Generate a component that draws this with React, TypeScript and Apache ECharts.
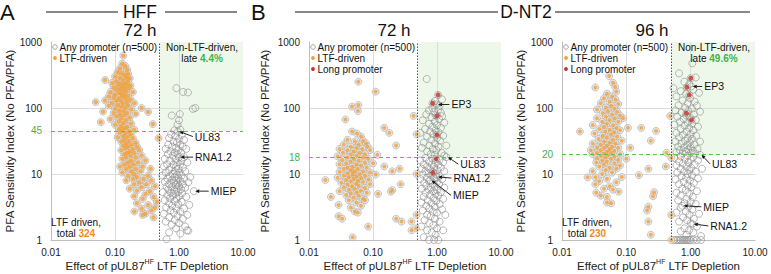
import { useEffect, useRef } from 'react';
import * as echarts from 'echarts';

type Pt = [number, number];

// ---- axis ticks ----
const xTickLabels = ['0.01', '0.10', '1.00', '10.00'];
const yTickLabels = ['1', '10', '100', '1000'];

// ---- HFF 72 h ----
const hffLtf: Pt[] = [
  [0.135, 620], [0.13, 470], [0.145, 430], [0.12, 400], [0.155, 380], [0.11, 350], [0.125, 340], [0.14, 320], [0.16, 330],
  [0.10, 300], [0.118, 290], [0.15, 295], [0.17, 285], [0.132, 270], [0.07, 265], [0.105, 255], [0.16, 260],
  [0.09, 240], [0.12, 235], [0.14, 240], [0.155, 230], [0.11, 220], [0.13, 215], [0.175, 220], [0.095, 205], [0.145, 205],
  [0.165, 200], [0.12, 195], [0.105, 190], [0.135, 185], [0.15, 180], [0.085, 175], [0.115, 170], [0.19, 175], [0.125, 165],
  [0.1, 160], [0.14, 158], [0.16, 155], [0.08, 150], [0.13, 150],
  [0.095, 145], [0.115, 140], [0.145, 140], [0.175, 135], [0.07, 130], [0.105, 130], [0.125, 128], [0.155, 125], [0.05, 123],
  [0.09, 120], [0.135, 118], [0.2, 118], [0.11, 112], [0.16, 110], [0.08, 108], [0.125, 105], [0.145, 102], [0.26, 100],
  [0.1, 98], [0.18, 96], [0.115, 92], [0.135, 90], [0.065, 88], [0.33, 87], [0.155, 85], [0.095, 84], [0.12, 80], [0.21, 82],
  [0.14, 78], [0.105, 75], [0.17, 72], [0.125, 70], [0.085, 68], [0.15, 66], [0.115, 63], [0.06, 61], [0.135, 60], [0.18, 58],
  [0.39, 57], [0.1, 56], [0.125, 54], [0.155, 52], [0.14, 50], [0.115, 48], [0.2, 47], [0.165, 45], [0.13, 46],
  [0.12, 43], [0.145, 42], [0.175, 40], [0.135, 38], [0.155, 37], [0.11, 36], [0.48, 35], [0.19, 35], [0.14, 33], [0.165, 32],
  [0.125, 31], [0.21, 30], [0.15, 29], [0.18, 28], [0.135, 27], [0.16, 26], [0.22, 26], [0.145, 25], [0.19, 24], [0.125, 23],
  [0.17, 22], [0.24, 23], [0.155, 21], [0.2, 21], [0.14, 20],
  [0.175, 19], [0.26, 19], [0.15, 18], [0.21, 18], [0.13, 17], [0.18, 16], [0.3, 16], [0.16, 15], [0.23, 15], [0.14, 14],
  [0.195, 14], [0.12, 13], [0.17, 13], [0.27, 13], [0.36, 12], [0.15, 12], [0.21, 12], [0.18, 11], [0.25, 11], [0.13, 10.5], [0.2, 10],
  [0.16, 9.5], [0.33, 9.5], [0.22, 9], [0.19, 8.5], [0.28, 8.5], [0.37, 8], [0.15, 8], [0.24, 7.5], [0.2, 7], [0.31, 7],
  [0.42, 6.5], [0.26, 6.3], [0.17, 6], [0.22, 5.6], [0.35, 5.5], [0.3, 5],
  [0.2, 4.6], [0.4, 4.5], [0.27, 4.2], [0.45, 3.8], [0.22, 3.6], [0.33, 3.4], [0.42, 3.1], [0.26, 3], [0.37, 2.8], [0.2, 2.7],
  [0.3, 2.5], [0.27, 2.4], [0.4, 2.2],
];
const hffOther: Pt[] = [
  [0.91, 200], [1.16, 175], [1.38, 172], [1.8, 100], [1.65, 97], [0.77, 77], [1.03, 81], [1.0, 65], [0.95, 56], [0.85, 46], [1.05, 47],
  [0.96, 44], [0.75, 40], [0.88, 38], [1.1, 39], [0.7, 35], [1.0, 34], [1.2, 33], [0.82, 31], [0.93, 30], [0.68, 28], [1.05, 28],
  [0.78, 26], [1.15, 26], [0.9, 25], [0.62, 24], [0.98, 23], [1.3, 24], [0.74, 22], [0.86, 21], [1.08, 21], [0.67, 20], [0.95, 20],
  [1.0, 18], [0.8, 19], [1.2, 18], [0.6, 17], [0.88, 17], [1.1, 16], [0.72, 16], [0.95, 15], [1.35, 15], [0.65, 14], [0.82, 14],
  [1.05, 14], [0.9, 13], [0.58, 13], [0.76, 12.5], [1.15, 12.5], [0.98, 12], [0.7, 11.5], [0.86, 11], [1.25, 11], [0.62, 10.5],
  [1.02, 10.5], [0.8, 10],
  [0.93, 9.8], [0.55, 9.5], [0.72, 9.3], [1.1, 9.5], [1.5, 9], [0.85, 9], [0.98, 8.7], [0.66, 8.5], [1.2, 8.5], [0.78, 8.2],
  [0.9, 8], [1.05, 7.8], [0.6, 7.6], [1.4, 7.5], [0.83, 7.4], [0.95, 7.2], [0.7, 7], [1.15, 7], [0.88, 6.8], [1.0, 6.6],
  [0.64, 6.4], [0.76, 6.3], [1.25, 6.2], [0.92, 6], [1.08, 5.9], [0.68, 5.8], [0.84, 5.6], [1.7, 5.5], [0.98, 5.4], [0.56, 5.3],
  [0.75, 5.2], [1.12, 5.1], [0.88, 5],
  [0.66, 4.8], [0.8, 4.7], [1.0, 4.6], [1.3, 4.5], [0.72, 4.3], [0.92, 4.2], [0.6, 4.0], [0.85, 3.9], [1.1, 3.8], [0.7, 3.6],
  [0.97, 3.5], [1.45, 3.4], [0.78, 3.3], [0.63, 3.1], [0.9, 3.0], [1.2, 3.0], [0.74, 2.8], [1.05, 2.7], [0.83, 2.6], [0.58, 2.5],
  [1.35, 2.4], [0.95, 2.3], [0.7, 2.2], [1.15, 2.1], [0.86, 2.0],
  [0.62, 1.9], [1.0, 1.8], [0.77, 1.7], [1.25, 1.6], [0.9, 1.5], [1.33, 1.4], [1.4, 1.38], [0.7, 1.3], [1.05, 1.25], [0.64, 1.03],
];

// ---- D-NT2 72 h ----
const nt72Ltf: Pt[] = [
  [0.059, 250], [0.11, 177], [0.047, 105], [0.059, 111], [0.058, 90], [0.037, 67], [0.43, 76], [0.15, 50], [0.18, 42], [0.48, 40],
  [0.047, 44], [0.056, 41], [0.065, 37], [0.23, 27],
  [0.04, 33], [0.052, 31], [0.07, 32], [0.078, 29], [0.035, 28], [0.06, 28], [0.045, 26], [0.082, 26], [0.055, 25], [0.03, 24],
  [0.068, 24], [0.04, 23], [0.09, 23], [0.05, 22], [0.062, 21], [0.034, 21], [0.075, 20], [0.045, 20],
  [0.117, 19.5], [0.056, 19], [0.028, 18.5], [0.04, 18], [0.07, 18], [0.05, 17], [0.085, 17], [0.033, 16.5], [0.06, 16],
  [0.045, 15.5], [0.075, 15], [0.038, 14.5], [0.055, 14], [0.1, 14.5], [0.03, 14], [0.065, 13.5], [0.048, 13], [0.15, 13],
  [0.04, 12.5], [0.08, 12.5], [0.058, 12], [0.035, 12],
  [0.26, 12], [0.2, 11], [0.045, 11.5], [0.07, 11], [0.052, 11], [0.03, 10.8], [0.09, 10.5], [0.04, 10.3], [0.062, 10],
  [0.048, 9.8], [0.11, 9.8], [0.035, 9.5], [0.075, 9.5], [0.055, 9.2], [0.042, 9], [0.028, 8.8], [0.065, 8.7], [0.05, 8.5],
  [0.085, 8.3], [0.018, 8.1], [0.038, 8.2], [0.058, 8], [0.048, 10.5],
  [0.045, 7.8], [0.07, 7.6], [0.032, 7.4], [0.055, 7.2], [0.27, 7], [0.04, 7], [0.09, 7], [0.06, 6.7], [0.047, 6.5], [0.035, 6.3],
  [0.075, 6.2], [0.052, 6], [0.042, 5.8], [0.2, 5.7], [0.19, 5.4], [0.065, 5.6], [0.03, 5.5], [0.056, 5.3], [0.045, 5.1],
  [0.12, 5], [0.08, 5.2],
  [0.038, 4.8], [0.06, 4.7], [0.022, 4.5], [0.05, 4.4], [0.07, 4.2], [0.075, 4], [0.042, 4], [0.055, 3.7], [0.029, 3.4],
  [0.065, 3.3], [0.045, 3.1], [0.052, 2.7], [0.058, 2.6], [0.029, 2.3], [0.033, 2.1], [0.084, 1.6], [0.048, 1.1], [0.23, 2.1],
  [0.28, 1.9], [0.4, 1.9], [0.4, 1.4], [0.47, 1.5], [0.48, 2.4], [0.48, 10],
];
const nt72Other: Pt[] = [
  [0.69, 275], [1.2, 135], [0.93, 128], [0.85, 100], [1.1, 108], [0.98, 113], [0.75, 92], [1.05, 95], [0.9, 88], [1.15, 85],
  [0.68, 80], [0.95, 78], [1.2, 75], [0.82, 72], [1.08, 68], [0.6, 65], [0.92, 62], [0.75, 58], [1.3, 60], [1.0, 55], [0.85, 52],
  [1.15, 50], [0.65, 48], [0.95, 46], [0.78, 44], [1.05, 43], [0.55, 42], [0.88, 40], [1.25, 38], [0.7, 37], [1.0, 35], [0.82, 33],
  [1.12, 32], [0.62, 30], [0.93, 29], [0.76, 27], [1.05, 26], [1.4, 27], [0.58, 25], [0.86, 24], [0.98, 23], [0.7, 22], [1.18, 21],
  [0.8, 20], [0.92, 19.5], [1.3, 19], [1.4, 18],
  [0.66, 17.5], [0.85, 17], [1.1, 16.5], [0.55, 16], [0.75, 15.5], [0.95, 15], [1.25, 15], [0.62, 14], [0.83, 14], [1.05, 13.8],
  [0.7, 13], [0.9, 12.8], [1.15, 12.5], [0.58, 12], [0.78, 11.8], [1.0, 11.5], [0.66, 11], [0.87, 10.8], [1.3, 11], [0.74, 10.2],
  [0.96, 10],
  [0.6, 9.8], [0.82, 9.5], [1.1, 9.3], [0.98, 9], [0.7, 8.8], [0.9, 8.6], [0.55, 8.4], [1.2, 8.3], [0.78, 8], [0.75, 7.8], [1.0, 7.6],
  [0.63, 7.4], [0.86, 7.2], [1.08, 7], [0.68, 6.7], [0.93, 6.5], [0.8, 6.3], [1.3, 6.2], [0.58, 6], [0.74, 5.8], [1.0, 5.7],
  [0.87, 5.5], [1.15, 5.3], [0.66, 5.2], [0.95, 5],
  [0.78, 4.8], [1.05, 4.7], [0.62, 4.5], [0.88, 4.3], [1.25, 4.2], [0.72, 4], [0.97, 3.9], [0.57, 3.7], [0.82, 3.6], [1.1, 3.5],
  [0.68, 3.3], [0.92, 3.2], [0.76, 3], [1.2, 2.9], [0.6, 2.8], [0.86, 2.7], [1.0, 2.6], [0.7, 2.4], [1.35, 2.4], [0.8, 2.3],
  [0.93, 2.1], [0.64, 2.0],
  [1.1, 1.9], [0.76, 1.8], [0.88, 1.7], [0.57, 1.6], [1.0, 1.5], [0.7, 1.4], [1.25, 1.4], [0.83, 1.3], [0.95, 1.2], [0.62, 1.1],
  [0.75, 1.0], [0.9, 1.0], [1.05, 1.0],
];
const nt72Long: Pt[] = [[1.04, 158], [0.85, 118], [1.0, 76], [1.0, 39], [0.97, 17], [0.86, 10.5]];

// ---- D-NT2 96 h ----
const nt96Ltf: Pt[] = [
  [0.054, 305], [0.033, 205], [0.062, 241], [0.067, 210], [0.07, 177], [0.089, 70], [0.019, 44], [0.17, 50], [0.29, 45], [0.24, 32],
  [0.106, 50], [0.115, 25], [0.48, 76], [0.42, 21], [0.5, 17.6], [0.41, 13], [0.157, 9.6], [0.22, 12], [0.085, 9],
  [0.05, 165], [0.06, 150], [0.045, 140], [0.068, 135], [0.055, 125], [0.04, 118], [0.075, 115], [0.058, 108], [0.048, 102],
  [0.065, 98], [0.035, 95], [0.052, 90], [0.072, 88], [0.043, 84], [0.06, 80], [0.08, 77], [0.048, 74], [0.035, 70], [0.066, 70],
  [0.055, 66], [0.042, 62], [0.075, 62], [0.05, 58], [0.03, 55], [0.062, 55], [0.045, 52], [0.07, 50],
  [0.038, 48], [0.055, 47], [0.08, 46], [0.047, 44], [0.065, 43], [0.032, 41], [0.058, 40], [0.043, 38], [0.072, 37], [0.05, 36],
  [0.037, 34], [0.062, 33], [0.085, 32], [0.045, 31], [0.055, 30],
  [0.03, 29], [0.068, 29], [0.04, 28], [0.05, 27], [0.06, 26], [0.035, 25.5], [0.045, 25], [0.075, 25], [0.055, 24], [0.028, 23],
  [0.04, 23], [0.065, 22.5], [0.05, 22], [0.035, 21], [0.058, 21], [0.045, 20.5], [0.08, 20], [0.03, 20], [0.052, 19.5], [0.04, 19],
  [0.065, 18.5], [0.047, 18], [0.035, 17.5], [0.058, 17], [0.075, 16.5], [0.042, 16], [0.1, 17],
  [0.05, 15.5], [0.034, 15], [0.065, 14.5], [0.045, 14], [0.08, 13.5], [0.038, 13], [0.055, 12.5], [0.07, 12], [0.048, 11.5],
  [0.03, 11], [0.06, 10.5], [0.042, 10],
  [0.025, 8.9], [0.033, 8.9], [0.05, 8.5], [0.038, 7.8], [0.07, 7.5], [0.033, 7], [0.055, 6.5], [0.045, 6], [0.076, 5.4], [0.04, 4.7],
  [0.05, 4.5], [0.058, 3.6], [0.05, 3.7], [0.27, 5.3], [0.26, 4.6], [0.22, 3.2], [0.21, 2.8], [0.22, 1.9], [0.24, 1.2], [0.5, 2.4],
  [0.5, 1.0], [0.034, 5.2], [0.062, 5.8],
];
const nt96Other: Pt[] = [
  [1.06, 475], [0.66, 335], [0.54, 200], [1.2, 290], [0.8, 250], [0.95, 230], [1.02, 212], [0.7, 180], [1.1, 190], [0.85, 165],
  [1.35, 170], [0.6, 150], [0.98, 140], [0.75, 130], [1.15, 125], [0.9, 118], [0.65, 110], [1.25, 108], [0.82, 100], [1.05, 98],
  [0.58, 92], [0.92, 90], [0.72, 85], [1.4, 88], [1.12, 80], [0.85, 78], [0.62, 74], [0.98, 72], [0.78, 68], [1.2, 66], [0.68, 62],
  [0.9, 60], [1.05, 58], [0.56, 56], [0.8, 54], [1.3, 52], [0.95, 50], [0.7, 48], [1.1, 46], [0.86, 44], [0.6, 42], [1.0, 40],
  [0.76, 39], [1.22, 38], [0.66, 36], [0.9, 35], [1.05, 34], [0.82, 32], [0.58, 31], [1.4, 31], [0.97, 30], [0.72, 29], [1.15, 28],
  [0.88, 27], [0.64, 26], [1.0, 25.5], [0.78, 25], [1.28, 24], [0.92, 23.5], [0.68, 23], [1.08, 22.5], [0.84, 22], [0.6, 21.5],
  [1.0, 21], [0.75, 20.5], [1.18, 20.5], [1.4, 19.5],
  [0.9, 19], [0.7, 18.5], [1.1, 18], [0.56, 17.5], [0.82, 17], [1.0, 16.5], [1.3, 16], [0.66, 15.5], [0.92, 15], [0.76, 14.5],
  [1.15, 14], [0.6, 13.5], [0.86, 13], [1.02, 12.5], [0.7, 12], [1.5, 12], [0.95, 11.5], [0.8, 11], [1.2, 10.8], [0.62, 10.5],
  [0.9, 10], [1.05, 9.6], [0.72, 9.3], [0.85, 8.8], [1.3, 8.6], [0.58, 8.3], [0.98, 8], [0.78, 7.6], [1.12, 7.3], [0.66, 7],
  [0.9, 6.7], [1.02, 6.3], [0.74, 6], [0.84, 5.7], [1.25, 5.5], [0.6, 5.2], [0.95, 5], [0.7, 4.7], [1.08, 4.5], [0.86, 4.2],
  [0.64, 4], [1.0, 3.8], [0.8, 3.6], [1.2, 3.5], [0.74, 3.3], [0.92, 3.2], [0.7, 3.1], [1.06, 2.9], [0.84, 2.7], [0.6, 2.6],
  [1.35, 2.5], [0.96, 2.4], [0.76, 2.2], [1.12, 2.1], [0.88, 2.0], [0.66, 1.9], [1.0, 1.8], [1.06, 1.75], [1.25, 1.6], [0.8, 1.5],
  [0.94, 1.4], [0.7, 1.35], [1.1, 1.3], [0.86, 1.2], [1.45, 1.15],
  [0.55, 1], [0.6, 1], [0.63, 1], [0.67, 1], [0.7, 1], [0.74, 1], [0.78, 1], [0.82, 1], [0.86, 1], [0.9, 1], [0.95, 1], [1.0, 1],
  [1.1, 1], [1.25, 1], [1.45, 1],
];
const nt96Long: Pt[] = [[1.0, 282], [0.87, 206], [0.95, 158], [0.86, 83], [1.03, 66]];

// ---- per-panel settings ----
const panelTimes = ['72 h', '72 h', '96 h'];
const thresholds = [45, 18, 20];
const depletionCutoff = 0.5;
const lateShares = ['4.4%', '', '49.6%'];
const ltfTotals = ['324', '', '230'];

type Note = { panel: number; label: string; at: Pt; dx: number; dy: number };
const notes: Note[] = [
  { panel: 0, label: 'UL83', at: [0.96, 44], dx: 17, dy: 5 },
  { panel: 0, label: 'RNA1.2', at: [1.0, 18], dx: 16, dy: 0 },
  { panel: 0, label: 'MIEP', at: [1.7, 5.5], dx: 17, dy: 0 },
  { panel: 1, label: 'EP3', at: [0.98, 113], dx: 15, dy: 0 },
  { panel: 1, label: 'UL83', at: [1.4, 18], dx: 14, dy: 7 },
  { panel: 1, label: 'RNA1.2', at: [0.98, 9], dx: 17, dy: 1 },
  { panel: 1, label: 'MIEP', at: [0.78, 8], dx: 23, dy: 15 },
  { panel: 2, label: 'EP3', at: [1.02, 212], dx: 13, dy: 0 },
  { panel: 2, label: 'UL83', at: [1.4, 19.5], dx: 12, dy: 9 },
  { panel: 2, label: 'MIEP', at: [0.74, 3.3], dx: 21, dy: 1 },
  { panel: 2, label: 'RNA1.2', at: [1.06, 1.75], dx: 18, dy: 2 },
];

const FONT = '"Liberation Sans", Arial, sans-serif';
const ORANGE = '#f3a03a';
const ORANGE_TXT = '#ef8a25';
const GREEN = '#3db34a';
const RED = '#c8302a';
const RING = '#8f8f8f';

const grids = [
  { left: 51, top: 42, width: 192, height: 198, outerBoundsMode: 'none', containLabel: false },
  { left: 309, top: 42, width: 192, height: 198, outerBoundsMode: 'none', containLabel: false },
  { left: 562, top: 42, width: 193, height: 198, outerBoundsMode: 'none', containLabel: false },
];

const panels = [
  { ltf: hffLtf, other: hffOther, long: [] as Pt[] },
  { ltf: nt72Ltf, other: nt72Other, long: nt72Long },
  { ltf: nt96Ltf, other: nt96Other, long: nt96Long },
];

export default function App() {
  const ref = useRef<HTMLDivElement>(null);

  useEffect(() => {
    if (!ref.current) return;
    const chart = echarts.init(ref.current, undefined, { renderer: 'svg' });

    const xAxis = grids.map((_, i) => ({
      type: 'log', logBase: 10, min: 0.01, max: 10, gridIndex: i,
      axisLine: { lineStyle: { color: '#bdbdbd' } },
      axisTick: { show: false },
      splitLine: { show: true, showMinLine: false, showMaxLine: false, lineStyle: { color: '#dcdcdc' } },
      axisLabel: {
        fontFamily: FONT, fontSize: 10, color: '#222', margin: 7,
        formatter: (v: number) => xTickLabels[Math.round(Math.log10(v)) + 2],
      },
      name: '{n|Effect of pUL87}{s|HF}{n| LTF Depletion}',
      nameLocation: 'middle', nameGap: 18, nameMoveOverlap: false,
      nameTextStyle: {
        fontFamily: FONT, color: '#222',
        rich: {
          n: { fontFamily: FONT, fontSize: 11.5, color: '#222', lineHeight: 14, verticalAlign: 'bottom' },
          s: { fontFamily: FONT, fontSize: 7, color: '#222', lineHeight: 14, verticalAlign: 'top' },
        },
      },
    }));

    const yAxis = grids.map((_, i) => ({
      type: 'log', logBase: 10, min: 1, max: 1000, gridIndex: i,
      axisLine: { show: true, lineStyle: { color: '#bdbdbd' } },
      axisTick: { show: false },
      splitLine: { show: true, showMinLine: false, showMaxLine: false, lineStyle: { color: '#dcdcdc' } },
      axisLabel: {
        fontFamily: FONT, fontSize: 10, color: '#222', margin: 9,
        formatter: (v: number) => yTickLabels[Math.round(Math.log10(v))],
      },
      name: 'PFA Sensitivity Index (No PFA/PFA)',
      nameLocation: 'middle', nameGap: i === 1 ? 38 : 35, nameMoveOverlap: false,
      nameTextStyle: { fontFamily: FONT, fontSize: 11.5, color: '#222' },
    }));

    const series: any[] = [];
    panels.forEach((p, i) => {
      series.push({
        type: 'scatter', xAxisIndex: i, yAxisIndex: i, z: 2,
        data: p.other, symbolSize: 7,
        itemStyle: { color: 'rgba(255,255,255,0)', borderColor: RING, borderWidth: 0.8 },
        markArea: {
          silent: true,
          itemStyle: { color: 'rgba(205,235,195,0.35)' },
          data: [[{ coord: [depletionCutoff, thresholds[i]] }, { coord: [10, 1000] }]],
        },
      });
      // LTF-driven promoters: pale grey ring under an orange dot
      series.push({
        type: 'scatter', xAxisIndex: i, yAxisIndex: i, z: 3,
        data: p.ltf, symbolSize: 7,
        itemStyle: { color: '#e2e2e2', borderColor: '#ababab', borderWidth: 0.8 },
      });
      series.push({
        type: 'scatter', xAxisIndex: i, yAxisIndex: i, z: 4,
        data: p.ltf, symbolSize: i === 0 ? 4.6 : 4,
        itemStyle: { color: ORANGE },
      });
      if (p.long.length) {
        series.push({
          type: 'scatter', xAxisIndex: i, yAxisIndex: i, z: 5,
          data: p.long, symbolSize: 7,
          itemStyle: { color: 'rgba(255,255,255,0)', borderColor: RING, borderWidth: 0.8 },
        });
        series.push({
          type: 'scatter', xAxisIndex: i, yAxisIndex: i, z: 6,
          data: p.long, symbolSize: 5,
          itemStyle: { color: RED },
        });
      }
      // threshold and depletion cut-off drawn above the points
      series.push({
        type: 'scatter', xAxisIndex: i, yAxisIndex: i, z: 8, data: [],
        markLine: {
          silent: true, symbol: 'none', animation: false,
          data: [
            {
              yAxis: thresholds[i],
              lineStyle: { color: '#5fbf52', type: [4, 3], width: 1.2 },
              label: { show: true, position: 'start', distance: 9, formatter: String(thresholds[i]), color: GREEN, fontFamily: FONT, fontSize: 10 },
            },
            {
              xAxis: depletionCutoff,
              lineStyle: { color: '#555', type: [1.5, 1.5], width: 1 },
              label: { show: false },
            },
          ],
        },
      });
    });

    chart.setOption({
      animation: false,
      textStyle: { fontFamily: FONT },
      grid: grids,
      xAxis,
      yAxis,
      series,
    });

    // ---- overlay: headers, legends, summary text, annotations ----
    const g: any[] = [];
    const text = (x: number, y: number, t: string, size: number, align = 'left', extra: any = {}) => ({
      type: 'text', x, y, silent: true, z: 100,
      style: {
        text: t, fill: '#111', fontSize: size, fontFamily: FONT,
        textAlign: align, textVerticalAlign: 'middle', align, verticalAlign: 'middle', ...extra,
      },
    });
    const hline = (x1: number, x2: number, y: number) => ({
      type: 'line', silent: true, z: 100, shape: { x1, y1: y, x2, y2: y }, style: { stroke: '#111', lineWidth: 1 },
    });

    g.push(text(0, 12.5, 'A', 22));
    g.push(text(251, 12.5, 'B', 22));
    g.push(hline(46, 118, 12), text(140, 11.5, 'HFF', 17.5, 'center'), hline(165, 237, 12));
    g.push(hline(295, 498, 12), text(526, 11.5, 'D-NT2', 17.5, 'center'), hline(555, 750, 12));
    const timeX = [140, 394, 652];
    panelTimes.forEach((t, i) => g.push(text(timeX[i], 30, t, 17, 'center')));

    // legends
    panels.forEach((p, i) => {
      const lx = grids[i].left + 4;
      const rows: { label: string; kind: string }[] = [
        { label: 'Any promoter (n=500)', kind: 'any' },
        { label: 'LTF-driven', kind: 'ltf' },
      ];
      if (p.long.length) rows.push({ label: 'Long promoter', kind: 'long' });
      rows.forEach((r, k) => {
        const cy = 47 + k * 11;
        if (r.kind === 'any') {
          g.push({ type: 'circle', silent: true, z: 100, shape: { cx: lx, cy, r: 2.3 }, style: { fill: '#fff', stroke: RING, lineWidth: 0.8 } });
        } else {
          g.push({ type: 'circle', silent: true, z: 100, shape: { cx: lx, cy, r: 1.9 }, style: { fill: r.kind === 'ltf' ? ORANGE : RED } });
        }
        g.push(text(lx + 4.5, cy, r.label, 10));
      });
    });

    // summary text
    [0, 2].forEach((i) => {
      const right = grids[i].left + grids[i].width;
      const cx = right - 41;
      g.push(text(cx, 47, 'Non-LTF-driven,', 10, 'center'));
      g.push(text(cx, 58, `late {g|${lateShares[i]}}`, 10, 'center', {
        rich: { g: { fill: GREEN, fontWeight: 'bold', fontSize: 10, fontFamily: FONT } },
      }));
      const lx = grids[i].left + 25;
      g.push(text(lx, 222, 'LTF driven,', 10, 'center'));
      g.push(text(lx, 233, `total {o|${ltfTotals[i]}}`, 10, 'center', {
        rich: { o: { fill: ORANGE_TXT, fontWeight: 'bold', fontSize: 10, fontFamily: FONT } },
      }));
    });

    // labelled promoters with arrows
    notes.forEach((n) => {
      const [px, py] = chart.convertToPixel({ gridIndex: n.panel }, n.at) as number[];
      const lx = px + n.dx;
      const ly = py + n.dy;
      const sx = lx - 2;
      const sy = ly;
      const tx = px + 1.5;
      const ty = py;
      const ang = Math.atan2(ty - sy, tx - sx);
      const ah = 4;
      const aw = 1.8;
      const bx = tx - ah * Math.cos(ang);
      const by = ty - ah * Math.sin(ang);
      g.push({ type: 'line', silent: true, z: 100, shape: { x1: sx, y1: sy, x2: bx, y2: by }, style: { stroke: '#111', lineWidth: 0.9 } });
      g.push({
        type: 'polygon', silent: true, z: 100,
        shape: {
          points: [
            [tx, ty],
            [bx - aw * Math.sin(ang), by + aw * Math.cos(ang)],
            [bx + aw * Math.sin(ang), by - aw * Math.cos(ang)],
          ],
        },
        style: { fill: '#111' },
      });
      g.push(text(lx, ly, n.label, 10.5));
    });

    chart.setOption({ graphic: g });

    return () => chart.dispose();
  }, []);

  return <div ref={ref} style={{ position: 'fixed', left: 0, top: 0, width: 771, height: 274, background: '#fff' }} />;
}
